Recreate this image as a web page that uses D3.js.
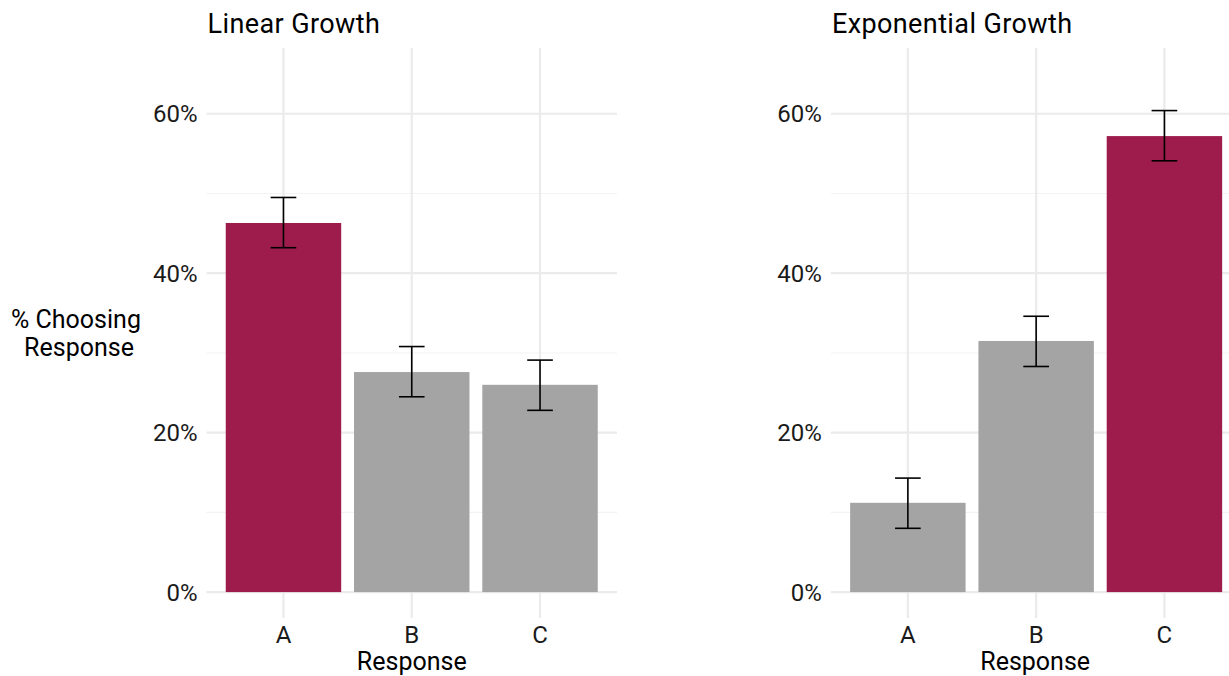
<!DOCTYPE html>
<html>
<head>
<meta charset="utf-8">
<script src="https://cdn.jsdelivr.net/npm/d3@7"></script>
<style>
  html, body { margin: 0; padding: 0; background: #ffffff; }
  svg { display: block; font-family: Roboto, "Noto Sans", sans-serif; }
</style>
</head>
<body>
<svg id="chart" width="1229" height="676"></svg>
<script>
// Share of respondents picking each answer, with 95% interval bounds (percent)
const categories = ["A", "B", "C"];
const panelTitles = ["Linear Growth", "Exponential Growth"];
const correctAnswer = ["A", "C"];

const linearShare = [46.3, 27.6, 26.0];
const linearLow = [43.2, 24.5, 22.8];
const linearHigh = [49.5, 30.8, 29.1];

const exponentialShare = [11.2, 31.5, 57.2];
const exponentialLow = [8.0, 28.3, 54.1];
const exponentialHigh = [14.3, 34.6, 60.4];

const yTicks = [0, 20, 40, 60];
const yMinorTicks = [10, 30, 50];
const yLimits = [0, 65];

const panels = [
  { title: panelTitles[0], share: linearShare, low: linearLow, high: linearHigh, correct: correctAnswer[0] },
  { title: panelTitles[1], share: exponentialShare, low: exponentialLow, high: exponentialHigh, correct: correctAnswer[1] }
];

const panelTop = 48, panelBottom = 618;
const panelLefts = [206.5, 830.9];
const panelWidth = 410.5;

const colCorrect = "#9E1C4B";
const colOther = "#A4A4A4";

const svg = d3.select("#chart");

// ggplot-style 5% expansion of the y limits
const span = yLimits[1] - yLimits[0];
const y = d3.scaleLinear()
  .domain([yLimits[0] - 0.05 * span, yLimits[1] + 0.05 * span])
  .range([panelBottom, panelTop]);

panels.forEach((p, i) => {
  const left = panelLefts[i];
  const x = d3.scaleBand()
    .domain(categories)
    .range([left, left + panelWidth])
    .paddingInner(0.1)
    .paddingOuter(0.15);
  const step = x.step();
  const cx = c => x(c) + x.bandwidth() / 2;

  const g = svg.append("g");

  // minor gridlines
  g.selectAll(".ygm").data(yMinorTicks).join("line")
    .attr("x1", left).attr("x2", left + panelWidth)
    .attr("y1", d => y(d)).attr("y2", d => y(d))
    .attr("stroke", "#f3f3f3").attr("stroke-width", 1.1);

  // major gridlines
  g.selectAll(".yg").data(yTicks).join("line")
    .attr("x1", left).attr("x2", left + panelWidth)
    .attr("y1", d => y(d)).attr("y2", d => y(d))
    .attr("stroke", "#ebebeb").attr("stroke-width", 2.2);
  g.selectAll(".xg").data(categories).join("line")
    .attr("x1", d => cx(d)).attr("x2", d => cx(d))
    .attr("y1", panelTop).attr("y2", panelBottom)
    .attr("stroke", "#ebebeb").attr("stroke-width", 2.2);

  // bars
  g.selectAll(".bar").data(categories).join("rect")
    .attr("x", d => x(d))
    .attr("width", x.bandwidth())
    .attr("y", (d, j) => y(p.share[j]))
    .attr("height", (d, j) => y(0) - y(p.share[j]))
    .attr("fill", d => d === p.correct ? colCorrect : colOther);

  // error bars
  const capHalf = step * 0.1;
  const eb = g.selectAll(".eb").data(categories).join("g")
    .attr("stroke", "#000").attr("stroke-width", 1.6).attr("fill", "none");
  eb.append("line")
    .attr("x1", d => cx(d)).attr("x2", d => cx(d))
    .attr("y1", (d, j) => y(p.low[j])).attr("y2", (d, j) => y(p.high[j]));
  eb.append("line")
    .attr("x1", d => cx(d) - capHalf).attr("x2", d => cx(d) + capHalf)
    .attr("y1", (d, j) => y(p.high[j])).attr("y2", (d, j) => y(p.high[j]));
  eb.append("line")
    .attr("x1", d => cx(d) - capHalf).attr("x2", d => cx(d) + capHalf)
    .attr("y1", (d, j) => y(p.low[j])).attr("y2", (d, j) => y(p.low[j]));

  // y tick labels
  g.selectAll(".yl").data(yTicks).join("text")
    .attr("x", left - 9)
    .attr("y", d => y(d))
    .attr("dy", "0.36em")
    .attr("text-anchor", "end")
    .attr("font-size", 24)
    .attr("fill", "#1a1a1a")
    .text(d => d3.format(".0%")(d / 100));

  // x tick labels
  g.selectAll(".xl").data(categories).join("text")
    .attr("x", d => cx(d))
    .attr("y", 643)
    .attr("text-anchor", "middle")
    .attr("font-size", 24)
    .attr("fill", "#1a1a1a")
    .text(d => d);

  // x axis title
  g.append("text")
    .attr("x", left + panelWidth / 2 + (i === 1 ? -1 : 0))
    .attr("y", 670)
    .attr("text-anchor", "middle")
    .attr("font-size", 25)
    .attr("fill", "#000")
    .text("Response");

  // panel title
  g.append("text")
    .attr("x", left + 1)
    .attr("y", 33)
    .attr("font-size", 27)
    .attr("letter-spacing", 0.4)
    .attr("fill", "#000")
    .text(p.title);
});

// y axis title (left panel only)
const yTitle = svg.append("text")
  .attr("text-anchor", "middle")
  .attr("font-size", 25)
  .attr("fill", "#000");
yTitle.append("tspan").attr("x", 76).attr("y", 328).text("% Choosing");
yTitle.append("tspan").attr("x", 79).attr("y", 356).text("Response");
</script>
</body>
</html>
